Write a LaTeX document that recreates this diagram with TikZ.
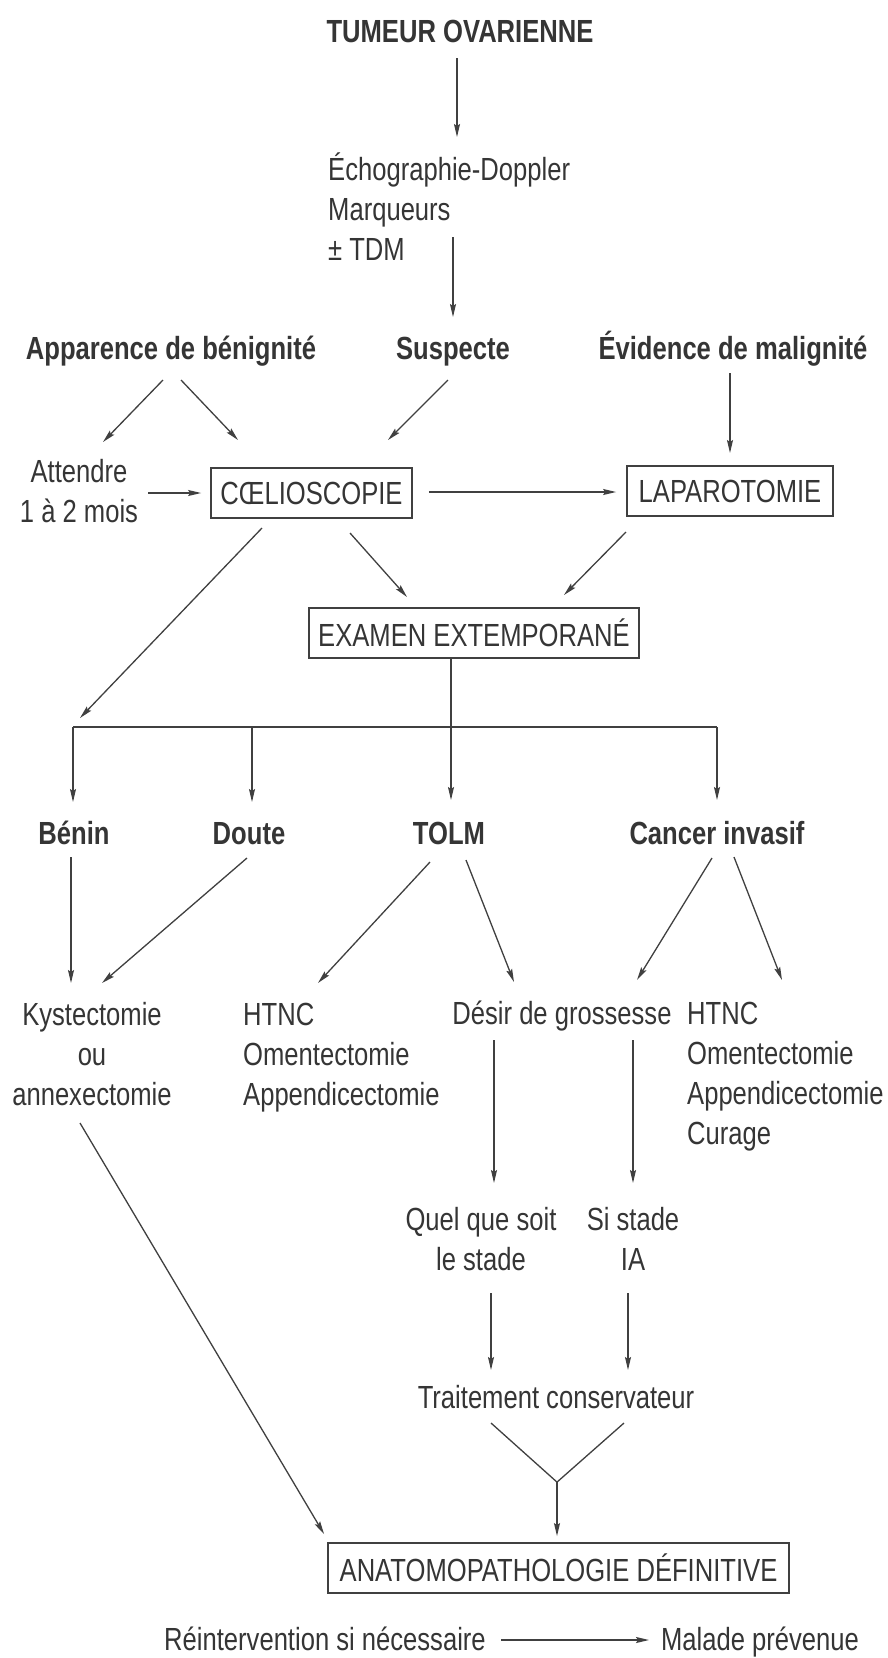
\documentclass[tikz,border=0pt]{standalone}
\usepackage{fontspec}
\setmainfont{Liberation Sans}[FakeStretch=0.8]
\usetikzlibrary{arrows.meta,calc}
\definecolor{txt}{HTML}{353535}
\definecolor{lnc}{HTML}{404040}
\begin{document}
\begin{tikzpicture}[x=1pt,y=-1pt,
  every node/.style={font=\fontsize{32}{40}\selectfont, text=txt, inner sep=0pt},
  lbl/.style={font=\fontsize{32}{40}\selectfont\bfseries},
  box/.style={draw=lnc, line width=1.8pt, minimum height=50pt},
  conn/.style={draw=lnc, line width=1.3pt},
  arr/.style={conn, -{Stealth[length=13pt,width=6pt,inset=2pt]}}]
\fill[white] (0,0) rectangle (888,1658);
\useasboundingbox (0,0) rectangle (888,1658);

% nodes
\node[lbl, anchor=base] (tumeur) at (460,42) {TUMEUR OVARIENNE};
\node[anchor=base west] (echo) at (328,180) {\begin{tabular}[t]{@{}l@{}}Échographie-Doppler\\Marqueurs\\± TDM\end{tabular}};
\node[lbl, anchor=base] (app) at (171,359) {Apparence de bénignité};
\node[lbl, anchor=base] (sus) at (453,359) {Suspecte};
\node[lbl, anchor=base] (evid) at (733,359) {Évidence de malignité};
\node[anchor=base] (att) at (79,482) {\begin{tabular}[t]{@{}c@{}}Attendre\\1 à 2 mois\end{tabular}};
\node[box, minimum width=201pt] (coel) at (311.5,493) {CŒLIOSCOPIE};
\node[box, minimum width=206pt] (lap) at (730,491) {LAPAROTOMIE};
\node[box, minimum width=330pt] (exam) at (474,633) {EXAMEN EXTEMPORANÉ};
\node[lbl, anchor=base] (benin) at (74,844) {Bénin};
\node[lbl, anchor=base] (doute) at (249,844) {Doute};
\node[lbl, anchor=base] (tolm) at (449,844) {TOLM};
\node[lbl, anchor=base] (cancer) at (717,844) {Cancer invasif};
\node[anchor=base] (kyst) at (92,1025) {\begin{tabular}[t]{@{}c@{}}Kystectomie\\ou\\annexectomie\end{tabular}};
\node[anchor=base west] (htnc1) at (243,1025) {\begin{tabular}[t]{@{}l@{}}HTNC\\Omentectomie\\Appendicectomie\end{tabular}};
\node[anchor=base] (desir) at (562,1024) {Désir de grossesse};
\node[anchor=base west] (htnc2) at (687,1024) {\begin{tabular}[t]{@{}l@{}}HTNC\\Omentectomie\\Appendicectomie\\Curage\end{tabular}};
\node[anchor=base] (quel) at (481,1230) {\begin{tabular}[t]{@{}c@{}}Quel que soit\\le stade\end{tabular}};
\node[anchor=base] (si) at (633,1230) {\begin{tabular}[t]{@{}c@{}}Si stade\\IA\end{tabular}};
\node[anchor=base] (trait) at (556,1408) {Traitement conservateur};
\node[box, minimum width=461pt] (anat) at (558.5,1568) {ANATOMOPATHOLOGIE DÉFINITIVE};
\node[anchor=base] (rein) at (325,1650) {Réintervention si nécessaire};
\node[anchor=base] (mal) at (760,1650) {Malade prévenue};

% connectors
\draw[arr] ($(tumeur.base)+(-3,16)$) -- ($(echo.base west)+(129,-43)$);
\draw[arr] ($(echo.base west)+(125,57)$) -- ($(sus.base)+(0,-42)$);
\draw[arr] ($(app.base)+(-8,21)$) -- ($(att.base)+(24,-40)$);
\draw[arr] ($(app.base)+(10,21)$) -- ($(coel.center)+(-73.5,-53)$);
\draw[arr] ($(sus.base)+(-5,21)$) -- ($(coel.center)+(76.5,-53)$);
\draw[arr] ($(evid.base)+(-3,14)$) -- ($(lap.center)+(0,-38)$);
\draw[arr] ($(att.base)+(69,11)$) -- ($(coel.west)+(-9,0)$);
\draw[arr] ($(coel.east)+(16,-1)$) -- ($(lap.west)+(-10,1)$);
\draw[arr] ($(coel.center)+(38.5,40)$) -- ($(exam.center)+(-67,-36)$);
\draw[arr] ($(lap.center)+(-104,41)$) -- ($(exam.center)+(90,-38)$);
\draw[arr] ($(coel.center)+(-49.5,35)$) -- ($(benin.base)+(6,-126)$);
\draw[arr] ($(exam.south)+(-23,0)$) -- ($(tolm.base)+(2,-44)$);
\coordinate (barL) at ($(benin.base)+(-1,-117)$);
\coordinate (barR) at ($(cancer.base)+(0,-117)$);
\draw[conn] (barL) -- (barR);
\draw[arr] (barL) -- ($(benin.base)+(-1,-42)$);
\draw[arr] ($(doute.base)+(3,-117)$) -- ($(doute.base)+(3,-42)$);
\draw[arr] (barR) -- ($(cancer.base)+(0,-44)$);

\draw[arr] ($(benin.base)+(-3,13)$) -- ($(kyst.base)+(-21,-42)$);
\draw[arr] ($(doute.base)+(-2,14)$) -- ($(kyst.base)+(10,-42)$);
\draw[arr] ($(tolm.base)+(-19,18)$) -- ($(htnc1.base west)+(75,-42)$);
\draw[arr] ($(tolm.base)+(17,16)$) -- ($(desir.base)+(-48,-42)$);
\draw[arr] ($(cancer.base)+(-5,14)$) -- ($(desir.base)+(75,-44)$);
\draw[arr] ($(cancer.base)+(17,13)$) -- ($(htnc2.base west)+(95,-44)$);
\draw[arr] ($(desir.base)+(-68,16)$) -- ($(quel.base)+(13,-47)$);
\draw[arr] ($(desir.base)+(71,16)$) -- ($(si.base)+(0,-47)$);
\draw[arr] ($(quel.base)+(10,63)$) -- ($(trait.base)+(-65,-38)$);
\draw[arr] ($(si.base)+(-5,63)$) -- ($(trait.base)+(72,-38)$);
\coordinate (vj) at ($(anat.north)+(-1.5,-60)$);
\draw[conn] ($(trait.base)+(-65,15)$) -- (vj) -- ($(trait.base)+(68,15)$);
\draw[arr] (vj) -- ($(anat.north)+(-1.5,-6)$);
\draw[arr] ($(kyst.base)+(-12,98)$) -- ($(anat.north west)+(-3,-8)$);
\draw[arr] ($(rein.base)+(176,-10)$) -- ($(mal.base)+(-111,-10)$);
\end{tikzpicture}
\end{document}
